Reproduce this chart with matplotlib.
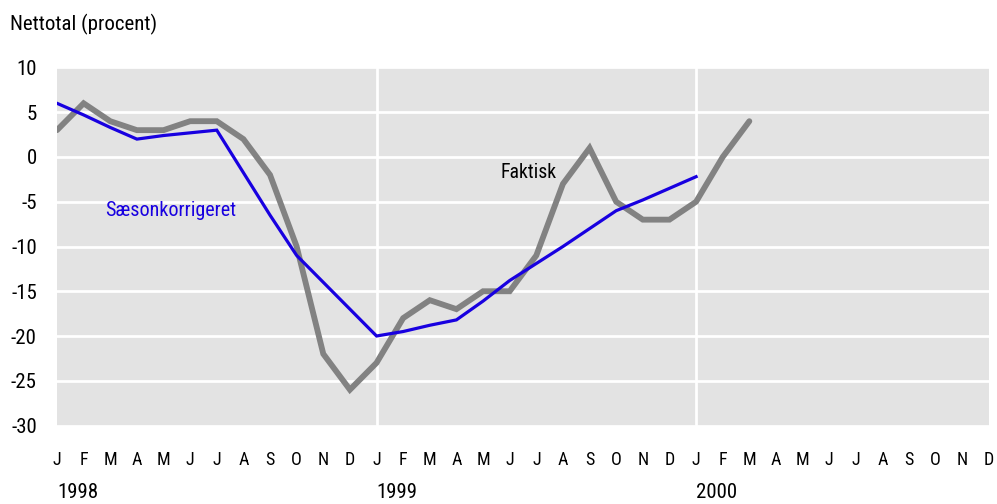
import matplotlib
matplotlib.use("Agg")
import matplotlib.pyplot as plt
from matplotlib import font_manager
import matplotlib.transforms as mtransforms

# ---- data ----
month_labels = ["J", "F", "M", "A", "M", "J", "J", "A", "S", "O", "N", "D"] * 3
years = ["1998", "1999", "2000"]
faktisk = [3, 6, 4, 3, 3, 4, 4, 2, -2, -10, -22, -26,
           -23, -18, -16, -17, -15, -15, -11, -3, 1, -5, -7, -7,
           -5, 0, 4]
saeson = [6, 4.7, 3.3, 2, 2.4, 2.7, 3, -1.75, -6.5, -11, -14, -17,
          -20, -19.5, -18.8, -18.2, -16.1, -13.8, -11.9, -10, -8, -6, -4.8, -3.5,
          -2.2]
yticks = [10, 5, 0, -5, -10, -15, -20, -25, -30]

avail = {f.name for f in font_manager.fontManager.ttflist}
fam = ["Roboto Condensed", "Liberation Sans Narrow", "Liberation Sans", "DejaVu Sans"]
fam = [f for f in fam if f in avail] or ["DejaVu Sans"]
plt.rcParams["font.family"] = fam

H = 504.0
fig = plt.figure(figsize=(9.97, 5.04), dpi=100)
ax = fig.add_axes([57/997, (H-425.5)/H, (989-57)/997, (425.5-67.5)/H])
ax.set_facecolor("#e3e3e3")
for s in ax.spines.values():
    s.set_visible(False)

ax.set_xlim(0, 35)
ax.set_ylim(-30, 10)

for y in yticks:
    ax.axhline(y, color="white", lw=2, zorder=1)
for x in (12, 24):
    ax.axvline(x, color="white", lw=2, zorder=1)

ax.plot(range(len(faktisk)), faktisk, color="#828282", lw=4.2, zorder=3,
        solid_joinstyle="miter", solid_capstyle="round")
ax.plot(range(len(saeson)), saeson, color="#1800e0", lw=2.3, zorder=4,
        solid_joinstyle="miter")

ax.set_yticks(yticks)
ax.set_yticklabels([str(v) for v in yticks], fontsize=15)
ax.set_xticks(range(36))
ax.set_xticklabels(month_labels, fontsize=13)
ax.tick_params(axis="both", length=0)
ax.tick_params(axis="y", pad=14.5)
ax.tick_params(axis="x", pad=18.5)
for lbl in ax.get_yticklabels():
    lbl.set_horizontalalignment("right")

trans = mtransforms.blended_transform_factory(ax.transData, fig.transFigure)
for i, yr in enumerate(years):
    ax.text(i*12, 1-498/H, yr, transform=trans, fontsize=15, ha="left", va="baseline")

fig.text(10/997, 1-30/H, "Nettotal (procent)", fontsize=15, ha="left", va="baseline")
ax.text(1.8, -6.6, "Sæsonkorrigeret", color="#1800e0", fontsize=14.5, ha="left", va="baseline")
ax.text(16.65, -2.4, "Faktisk", color="black", fontsize=14.2, ha="left", va="baseline")

fig.savefig("out.png", dpi=100)
